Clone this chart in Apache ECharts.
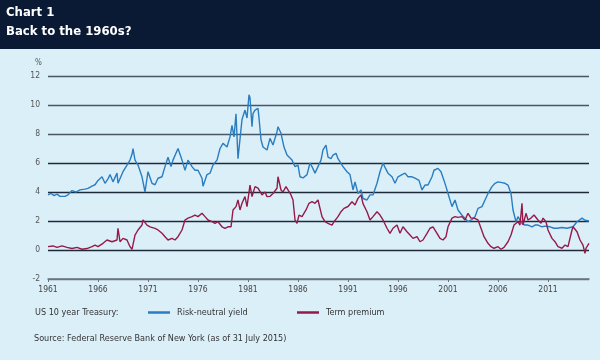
<!DOCTYPE html>
<html>
<head>
<meta charset="utf-8">
<script src="https://cdn.jsdelivr.net/npm/echarts@6/dist/echarts.min.js"></script>
<style>
html,body{margin:0;padding:0;background:#dbeff9;}
#c{width:600px;height:360px;}
</style>
</head>
<body>
<div id="c"></div>
<script>
// Risk-neutral yield (blue): decimal years and values (%)
const rnyX = [1961.0,1961.3,1961.6,1961.9,1962.2,1962.4,1962.7,1963.0,1963.4,1963.8,1964.2,1964.7,1965.0,1965.4,1965.7,1966.0,1966.4,1966.7,1967.0,1967.2,1967.5,1967.9,1968.0,1968.5,1968.9,1969.2,1969.4,1969.5,1969.7,1970.0,1970.4,1970.7,1971.0,1971.4,1971.7,1972.0,1972.4,1972.7,1973.0,1973.3,1973.5,1974.0,1974.4,1974.7,1975.0,1975.4,1975.7,1976.0,1976.4,1976.5,1976.9,1977.2,1977.5,1977.9,1978.2,1978.5,1978.9,1979.2,1979.4,1979.6,1979.8,1980.0,1980.4,1980.7,1980.9,1981.1,1981.2,1981.4,1981.5,1981.7,1982.0,1982.1,1982.3,1982.5,1982.9,1983.2,1983.5,1983.9,1984.0,1984.3,1984.6,1984.9,1985.4,1985.7,1986.0,1986.2,1986.5,1986.9,1987.2,1987.4,1987.7,1988.0,1988.3,1988.5,1988.8,1989.0,1989.3,1989.5,1989.8,1990.0,1990.5,1990.9,1991.2,1991.5,1991.7,1992.0,1992.3,1992.5,1992.9,1993.2,1993.5,1993.9,1994.2,1994.5,1994.7,1995.0,1995.4,1995.7,1996.0,1996.4,1996.7,1997.0,1997.4,1997.7,1998.1,1998.4,1998.7,1999.0,1999.4,1999.6,2000.0,2000.3,2000.6,2000.8,2001.0,2001.4,2001.7,2002.0,2002.4,2002.7,2003.0,2003.4,2003.7,2004.0,2004.4,2004.7,2005.0,2005.4,2005.7,2006.0,2006.4,2006.7,2007.0,2007.3,2007.5,2007.8,2008.0,2008.4,2008.7,2009.0,2009.4,2009.7,2010.0,2010.4,2010.7,2011.2,2011.6,2011.9,2012.4,2012.9,2013.5,2013.9,2014.4,2014.7,2015.1];
const rnyY = [3.8,3.9,3.75,3.85,3.7,3.63,3.7,3.8,4.1,4.0,4.15,4.2,4.25,4.4,4.5,4.8,5.05,4.6,4.9,5.2,4.7,5.3,4.6,5.4,5.86,6.2,6.6,7.0,6.2,5.86,5.05,4.0,5.4,4.6,4.5,4.95,5.05,5.75,6.4,5.75,6.2,7.0,6.2,5.5,6.2,5.75,5.5,5.5,4.95,4.4,5.2,5.3,5.86,6.2,7.0,7.36,7.1,7.8,8.6,7.8,9.4,6.3,9.0,9.65,9.1,10.7,10.5,8.5,9.4,9.65,9.77,9.1,7.6,7.1,6.9,7.7,7.24,8.16,8.5,8.05,7.1,6.55,6.2,5.75,5.86,5.05,4.97,5.2,6.0,5.75,5.3,5.75,6.2,6.9,7.24,6.4,6.3,6.55,6.67,6.3,5.75,5.4,5.2,4.14,4.7,3.9,4.14,3.55,3.45,3.8,3.8,4.6,5.4,6.0,5.7,5.3,5.05,4.6,5.05,5.2,5.3,5.05,5.05,4.95,4.8,4.14,4.48,4.48,5.05,5.5,5.63,5.4,4.8,4.37,3.9,2.99,3.45,2.76,2.4,2.19,1.95,2.1,2.3,2.87,2.99,3.45,3.9,4.37,4.6,4.7,4.65,4.6,4.48,3.9,2.76,1.95,2.3,1.84,1.72,1.72,1.6,1.72,1.72,1.6,1.65,1.6,1.5,1.5,1.55,1.5,1.6,1.95,2.2,2.05,2.0];

// Term premium (maroon): decimal years and values (%)
const tpX = [1961.0,1961.2,1961.5,1961.9,1962.4,1962.9,1963.4,1963.9,1964.4,1964.9,1965.4,1965.7,1966.0,1966.5,1966.9,1967.4,1967.9,1968.0,1968.2,1968.5,1968.9,1969.2,1969.4,1969.7,1970.0,1970.4,1970.5,1970.9,1971.2,1971.4,1971.7,1972.0,1972.4,1972.7,1973.0,1973.4,1973.7,1974.0,1974.4,1974.7,1975.0,1975.4,1975.7,1976.0,1976.4,1976.7,1977.0,1977.4,1977.7,1978.0,1978.4,1978.7,1979.0,1979.3,1979.5,1979.8,1980.0,1980.2,1980.4,1980.7,1980.9,1981.2,1981.4,1981.7,1982.0,1982.4,1982.7,1982.9,1983.2,1983.5,1983.9,1984.0,1984.3,1984.5,1984.8,1985.0,1985.3,1985.5,1985.7,1985.9,1986.1,1986.4,1986.8,1987.1,1987.4,1987.7,1988.0,1988.2,1988.4,1988.7,1989.0,1989.4,1989.6,1990.0,1990.3,1990.6,1991.0,1991.4,1991.7,1992.0,1992.3,1992.5,1992.9,1993.2,1993.5,1993.9,1994.2,1994.5,1994.9,1995.2,1995.5,1995.9,1996.2,1996.5,1996.9,1997.2,1997.5,1997.9,1998.2,1998.5,1998.9,1999.2,1999.5,1999.9,2000.2,2000.5,2000.8,2001.0,2001.4,2001.7,2002.0,2002.4,2002.7,2003.0,2003.3,2003.6,2004.0,2004.3,2004.6,2005.0,2005.3,2005.6,2006.0,2006.3,2006.6,2007.0,2007.3,2007.6,2008.0,2008.2,2008.4,2008.5,2008.8,2009.0,2009.3,2009.6,2010.0,2010.3,2010.5,2010.8,2011.0,2011.4,2011.7,2012.0,2012.4,2012.7,2013.0,2013.4,2013.5,2013.9,2014.2,2014.5,2014.7,2014.8,2015.1];
const tpY = [0.23,0.1,0.28,0.18,0.28,0.18,0.1,0.18,0.05,0.1,0.23,0.34,0.23,0.46,0.69,0.57,0.69,1.5,0.57,0.8,0.69,0.23,0.05,1.03,1.38,1.72,2.07,1.72,1.6,1.6,1.49,1.38,1.15,0.92,0.69,0.8,0.69,0.92,1.38,2.07,2.2,2.3,2.41,2.3,2.53,2.3,2.07,1.95,1.84,1.95,1.6,1.49,1.6,1.6,2.76,2.99,3.45,2.76,3.22,3.68,2.99,4.48,3.68,4.37,4.26,3.8,4.0,3.68,3.7,3.9,4.26,5.05,4.14,4.0,4.37,4.26,3.8,3.45,2.07,1.84,2.41,2.3,2.76,3.22,3.33,3.22,3.45,2.87,2.3,1.95,1.84,1.72,1.95,2.3,2.64,2.87,3.0,3.33,3.1,3.56,3.8,3.2,2.64,2.07,2.3,2.64,2.41,2.07,1.5,1.15,1.5,1.72,1.15,1.6,1.26,1.03,0.8,0.92,0.57,0.69,1.15,1.5,1.6,1.15,0.8,0.69,0.92,1.6,2.2,2.3,2.25,2.3,2.07,2.53,2.2,2.2,2.07,1.5,0.92,0.46,0.23,0.12,0.23,0.05,0.18,0.57,1.03,1.72,1.95,1.72,3.22,1.72,2.53,2.07,2.2,2.41,2.07,1.84,2.2,1.95,1.38,0.8,0.57,0.23,0.12,0.34,0.23,1.38,1.6,1.26,0.69,0.34,-0.23,0.12,0.46];

const yTicks = [-2, 0, 2, 4, 6, 8, 10, 12];
const xTickStart = 1961, xTickStep = 5, xEnd = 2015.1;

const pairs = (xs, ys) => xs.map((x, i) => [x, ys[i]]);

const chart = echarts.init(document.getElementById('c'), null, {renderer: 'canvas'});
const fnt = "'Liberation Sans Narrow','DejaVu Sans Condensed','Liberation Sans',sans-serif";
chart.setOption({
  backgroundColor: '#dbeff9',
  animation: false,
  graphic: [
    {type: 'rect', left: 0, top: 0, shape: {width: 600, height: 49}, style: {fill: '#0a1a35'}, z: 0},
    {type: 'text', left: 6, top: 6, style: {text: 'Chart 1', fill: '#ffffff', font: "bold 13px " + fnt}},
    {type: 'text', left: 6, top: 25, style: {text: 'Back to the 1960s?', fill: '#ffffff', font: "bold 13px " + fnt}},
    {type: 'text', left: 35, top: 59, style: {text: '%', fill: '#555', font: "8px " + fnt}},
    {type: 'text', left: 35, top: 308, style: {text: 'US 10 year Treasury:', fill: '#333', font: "9px " + fnt}},
    {type: 'text', left: 34, top: 334, style: {text: 'Source: Federal Reserve Bank of New York (as of 31 July 2015)', fill: '#333', font: "9px " + fnt}}
  ],
  legend: [
    {data: ['Risk-neutral yield'], left: 148, top: 308, icon: 'rect', itemWidth: 22, itemHeight: 2.5, itemGap: 0, padding: 0,
     textStyle: {fontFamily: fnt, fontSize: 9, color: '#333', padding: [0,0,0,2]}},
    {data: ['Term premium'], left: 297, top: 308, icon: 'rect', itemWidth: 22, itemHeight: 2.5, itemGap: 0, padding: 0,
     textStyle: {fontFamily: fnt, fontSize: 9, color: '#333', padding: [0,0,0,2]}}
  ],
  grid: {left: 48, right: 11, top: 76, bottom: 81, containLabel: false},
  xAxis: {
    type: 'value', min: xTickStart, max: xEnd, interval: xTickStep,
    axisLine: {show: true, onZero: false, lineStyle: {color: '#6a7480', width: 1.5}},
    axisTick: {show: true, length: 3, lineStyle: {color: '#6a7480'}},
    axisLabel: {color: '#444', fontFamily: fnt, fontSize: 8.5, margin: 6, showMaxLabel: false,
      formatter: v => String(Math.round(v))},
    splitLine: {show: false}
  },
  yAxis: {
    type: 'value', min: yTicks[0], max: yTicks[yTicks.length - 1], interval: 2,
    axisLine: {show: false}, axisTick: {show: false},
    axisLabel: {color: '#555', fontFamily: fnt, fontSize: 8.5, margin: 8},
    splitLine: {show: true, lineStyle: {width: 1.3,
      color: ['#6a7480', '#1e2a3a', '#1e2a3a', '#1e2a3a', '#1e2a3a', '#4a5664', '#4a5664', '#4a5664']}}
  },
  series: [
    {name: 'Risk-neutral yield', type: 'line', data: pairs(rnyX, rnyY), showSymbol: false, symbol: 'none',
     lineStyle: {color: '#2a7dc0', width: 1.4}, itemStyle: {color: '#2a7dc0'}, z: 3},
    {name: 'Term premium', type: 'line', data: pairs(tpX, tpY), showSymbol: false, symbol: 'none',
     lineStyle: {color: '#951a4a', width: 1.4}, itemStyle: {color: '#951a4a'}, z: 4}
  ]
});
</script>
</body>
</html>
